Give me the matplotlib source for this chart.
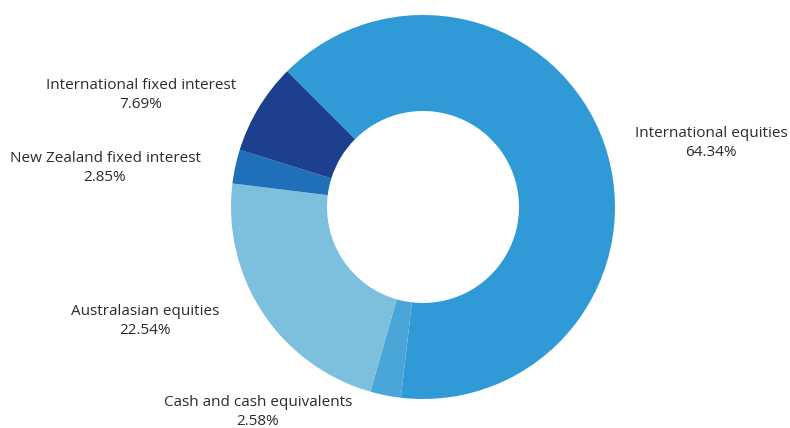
import matplotlib.pyplot as plt

# Datos del gráfico (orden en sentido horario desde arriba a la izquierda)
categorias = ["International equities", "Cash and cash equivalents",
              "Australasian equities", "New Zealand fixed interest",
              "International fixed interest"]
porcentajes = [64.34, 2.58, 22.54, 2.85, 7.69]
colores = ["#2F9AD6", "#4AA6D8", "#7DC0DE", "#1F6FB9", "#1C3F8E"]

# posiciones de etiquetas en píxeles (x, y desde arriba)
pos_etiquetas = [(711, 143), (258, 412), (145, 321), (105, 168), (141, 95)]

fig = plt.figure(figsize=(7.9, 4.28), dpi=100)
ax = fig.add_axes([0, 0, 1, 1])

ax.pie(porcentajes, colors=colores, startangle=135, counterclock=False,
       center=(423, 428 - 207), radius=192,
       wedgeprops=dict(width=96, edgecolor="none"), frame=True)
ax.set_xlim(0, 790)
ax.set_ylim(0, 428)
ax.set_aspect("equal")
ax.axis("off")

for nombre, valor, (x, y) in zip(categorias, porcentajes, pos_etiquetas):
    ax.text(x, 428 - y, f"{nombre}\n{valor:.2f}%", ha="center", va="center",
            fontsize=11, family="Open Sans", color="#2b2b2b", linespacing=1.3)

fig.savefig("out.png", dpi=100)
